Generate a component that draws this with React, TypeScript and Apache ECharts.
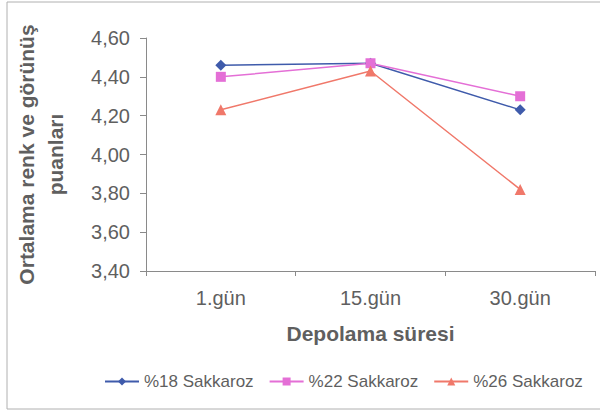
import React, { useEffect, useRef } from "react";
import * as echarts from "echarts";

const categories = ["1.gün", "15.gün", "30.gün"];
const s18 = [4.46, 4.47, 4.23];
const s22 = [4.4, 4.47, 4.3];
const s26 = [4.23, 4.43, 3.82];
const seriesNames = ["%18 Sakkaroz", "%22 Sakkaroz", "%26 Sakkaroz"];

const FONT = "'Liberation Sans', Arial, sans-serif";
const TXT = "#5f5f5f";

export default function App() {
  const ref = useRef<HTMLDivElement>(null);
  useEffect(() => {
    document.body.style.margin = "0";
    const chart = echarts.init(ref.current!, null, { renderer: "svg" });
    const mk = (name: string, data: number[], color: string, symbol: string, size: number) => ({
      name,
      type: "line",
      data,
      symbol,
      symbolSize: size,
      lineStyle: { color, width: 1.5 },
      itemStyle: { color },
    });
    chart.setOption({
      animation: false,
      backgroundColor: "#ffffff",
      textStyle: { fontFamily: FONT },
      graphic: [
        {
          type: "rect",
          shape: { x: 7, y: 2, width: 600, height: 407 },
          style: { fill: "none", stroke: "#b0b0b0", lineWidth: 1 },
        },
      ],
      grid: { left: 146, right: 5, top: 38, bottom: 141 },
      legend: {
        top: 373,
        left: 104,
        width: 496,
        padding: 0,
        itemWidth: 34,
        itemHeight: 10,
        itemGap: 15,
        textStyle: { color: TXT, fontSize: 17, fontFamily: FONT },
        data: seriesNames,
      },
      xAxis: {
        type: "category",
        data: categories,
        axisLine: { lineStyle: { color: "#8a8a8a" } },
        axisTick: { show: true, length: 5, lineStyle: { color: "#8a8a8a" } },
        axisLabel: { color: TXT, fontSize: 20, margin: 17, fontFamily: FONT },
        name: "Depolama süresi",
        nameLocation: "middle",
        nameGap: 52,
        nameTextStyle: { color: TXT, fontSize: 21, fontWeight: "bold", fontFamily: FONT },
      },
      yAxis: {
        type: "value",
        min: 3.4,
        max: 4.6,
        interval: 0.2,
        axisLine: { show: true, lineStyle: { color: "#8a8a8a" } },
        axisTick: { show: true, length: 6, lineStyle: { color: "#8a8a8a" } },
        splitLine: { show: false },
        axisLabel: {
          color: TXT,
          fontSize: 20,
          margin: 16,
          fontFamily: FONT,
          formatter: (v: number) => v.toFixed(2).replace(".", ","),
        },
        name: "Ortalama renk ve görünüş\npuanları",
        nameLocation: "middle",
        nameGap: 76,
        nameRotate: 90,
        nameTextStyle: {
          color: TXT,
          fontSize: 21,
          fontWeight: "bold",
          fontFamily: FONT,
          lineHeight: 29,
          align: "center",
        },
      },
      series: [
        mk(seriesNames[0], s18, "#3f5bab", "diamond", 11),
        mk(seriesNames[1], s22, "#e46fd6", "rect", 10),
        mk(seriesNames[2], s26, "#f0786a", "triangle", 11),
      ],
    });
    return () => chart.dispose();
  }, []);
  return (
    <div
      ref={ref}
      style={{ position: "fixed", left: 0, top: 0, width: 600, height: 412 }}
    />
  );
}
